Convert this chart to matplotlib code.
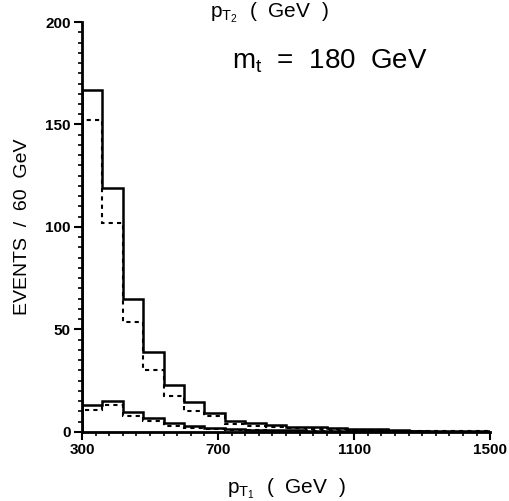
import numpy as np
import matplotlib
matplotlib.use("Agg")
import matplotlib.pyplot as plt

# bins of 60 GeV from 300 to 1500
edges = np.arange(300, 1501, 60)

main_solid = [167, 119, 65, 39, 23, 14.6, 9, 5.3, 4.4, 3.5,
              2.5, 2.5, 2, 1.5, 1.5, 1, 0.5, 0.5, 0.5, 0.5]
main_dotted = [152, 102, 53.5, 30, 17.5, 10, 7.5, 4, 3, 2.5,
               2, 1.5, 1.5, 1, 1, 0.5, 0.3, 0.3, 0.3, 0.3]
low_solid = [13, 15, 9.7, 6.8, 4.4, 3, 2, 1.5, 1, 1,
             0.7, 0.5, 0.5, 0.3, 0.3, 0.2, 0.2, 0.1, 0.1, 0.1]
low_dotted = [10.7, 13, 7.8, 5.3, 3, 2, 1.5, 1, 0.7, 0.5,
              0.5, 0.3, 0.3, 0.2, 0.2, 0.1, 0.1, 0.1, 0.1, 0.1]

plt.rcParams["font.family"] = ["Liberation Sans", "DejaVu Sans"]
plt.rcParams["mathtext.default"] = "regular"

fig = plt.figure(figsize=(5.09, 5.01), dpi=100)
ax = fig.add_axes([0.161, 0.138, 0.802, 0.818])

ax.stairs(main_solid, edges, color="black", lw=1.8)
ax.stairs(main_dotted, edges, color="black", lw=1.5, linestyle=(0, (2, 2)))
ax.stairs(low_solid, edges, color="black", lw=1.8)
ax.stairs(low_dotted, edges, color="black", lw=1.5, linestyle=(0, (2, 2)))

ax.set_xlim(300, 1500)
ax.set_ylim(0, 200)
ax.set_xticks([300, 700, 1100, 1500])
ax.set_xticks(np.arange(300, 1501, 40), minor=True)
ax.set_yticks([0, 50, 100, 150, 200])
ax.set_yticks(np.arange(0, 201, 5), minor=True)
ax.tick_params(which="major", direction="out", length=6, width=1.5, labelsize=11, pad=2)
ax.tick_params(which="minor", direction="out", length=3, width=1.2)
for lab in ax.get_xticklabels() + ax.get_yticklabels():
    lab.set_fontweight("bold")

for s in ["top", "right"]:
    ax.spines[s].set_visible(False)
for s in ["left", "bottom"]:
    ax.spines[s].set_linewidth(2)

ax.set_ylabel("EVENTS  /  60  GeV", fontsize=14, labelpad=10)
ax.set_xlabel(r"$p_{T_1}$  (  GeV  )", fontsize=15, labelpad=14)
fig.text(0.53, 0.975, r"$p_{T_2}$  (  GeV  )", fontsize=15, ha="center", va="center")
ax.text(0.368, 0.905, r"$m_t$  =  180  GeV", transform=ax.transAxes,
        fontsize=20, ha="left", va="center")

fig.savefig("out.png", dpi=100)
